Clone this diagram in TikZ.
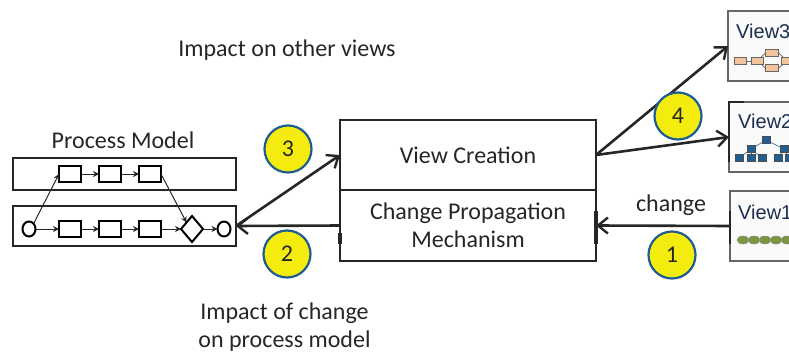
\documentclass[tikz,border=0pt]{standalone}
\usepackage{fontspec}
\setmainfont{Carlito}
\newfontfamily\thumbfont{Liberation Sans}
\usetikzlibrary{shapes.geometric, arrows.meta, positioning}
\definecolor{badgeyellow}{HTML}{F5EC0F}
\definecolor{badgeblue}{HTML}{1F5C8F}
\definecolor{thumborange}{HTML}{F2C49B}
\definecolor{thumbblue}{HTML}{1F5F96}
\definecolor{thumbgreen}{HTML}{7F9440}
\definecolor{thumbtext}{HTML}{1B2F4F}
\tikzset{
  lane/.style={draw=black!85,line width=2.8pt,minimum width=223pt,inner sep=0pt,outer sep=0pt},
  task/.style={draw=black,line width=2pt,minimum width=22pt,minimum height=16pt,inner sep=0pt,outer sep=0pt},
  event/.style={draw=black,line width=2pt,ellipse,minimum width=13pt,minimum height=15pt,inner sep=0pt,outer sep=0pt},
  gateway/.style={draw=black,line width=2pt,diamond,minimum width=22pt,minimum height=26pt,inner sep=0pt,outer sep=0pt},
  flow/.style={-{Stealth[length=6pt,width=6pt]},line width=1pt,black!85},
  bigbox/.style={draw=black!85,line width=2.4pt,minimum width=256pt,inner sep=0pt,outer sep=0pt,align=center},
  link/.style={-{Straight Barb[length=10pt,width=16pt,line width=2.4pt]},line width=2.6pt,black!85},
  badge/.style={circle,draw=badgeblue,line width=2.2pt,fill=badgeyellow,minimum size=47pt,inner sep=0pt},
  thumb/.style={draw=black!60,line width=1.2pt,fill=black!2,minimum width=90pt,minimum height=70pt,inner sep=0pt,outer sep=0pt},
  thumblabel/.style={font=\thumbfont\fontsize{20}{24}\selectfont,text=thumbtext,inner sep=0pt,anchor=west},
  otask/.style={draw=black!60,line width=0.6pt,fill=thumborange,minimum width=12pt,minimum height=7pt,inner sep=0pt},
  btask/.style={draw=black!70,line width=0.5pt,fill=thumbblue,minimum width=8pt,minimum height=7pt,inner sep=0pt},
  every node/.style={font=\fontsize{24}{28}\selectfont,text=black!85}
}
\begin{document}
\begin{tikzpicture}[x=1pt,y=-1pt]
\useasboundingbox (0,0) rectangle (789,353);
\clip (0,0) rectangle (789,353);
% Process Model
\node (ModelTitle) at (123,140) {Process Model};
\node[lane,minimum height=32pt] (LaneTop) at (124.5,174) {};
\node[lane,minimum height=40pt] (LaneBottom) at (124.5,226) {};
\node[task] (TopA) at (70,174) {};
\node[task,right=18pt of TopA] (TopB) {};
\node[task,right=18pt of TopB] (TopC) {};
\node[event] (Start) at (29,229) {};
\node[task] (TaskA) at (70,229) {};
\node[task,right=18pt of TaskA] (TaskB) {};
\node[task,right=18pt of TaskB] (TaskC) {};
\node[gateway] (Gate) at (192,229) {};
\node[event] (End) at (224,229) {};
\draw[flow] (TopA) -- (TopB);
\draw[flow] (TopB) -- (TopC);
\draw[flow] (Start) -- (TaskA);
\draw[flow] (TaskA) -- (TaskB);
\draw[flow] (TaskB) -- (TaskC);
\draw[flow] (TaskC) -- (Gate);
\draw[flow] (Gate) -- (End);
\draw[flow] (Start.north east) -- (TopA.west);
\draw[flow] (TopC.east) -- (Gate.north west);
% View Creation and Mechanism
\node[bigbox,minimum height=70pt] (Creation) at (468,155) {View Creation};
\node[bigbox,minimum height=71pt,below=0pt of Creation] (Mechanism) {Change Propagation\\Mechanism};
\draw[line width=4pt,black!85] (Mechanism.south east |- 0,211) -- (Mechanism.south east |- 0,244);
\draw[line width=4pt,black!85] (Mechanism.south west |- 0,233) -- (Mechanism.south west |- 0,244);
% Views
\node[thumb] (ViewThree) at (773,46) {};
\node[thumb] (ViewTwo) at (774,137) {};
\node[thumb] (ViewOne) at (775,226) {};
\node[thumblabel] (ViewThreeText) at (736,31) {View3};
\node[thumblabel] (ViewTwoText) at (738,121) {View2};
\node[thumblabel] (ViewOneText) at (738,212) {View1};
\draw[line width=2.4pt,black!85] (729,162) -- (729,102) -- (744,102);
\draw[line width=2.4pt,black!85] (730,211) -- (730,244);
% View3 thumbnail
\node[otask] (OrangeA) at (740,61) {};
\node[otask,right=5pt of OrangeA] (OrangeB) {};
\node[otask,minimum width=13pt] (OrangeUp) at (772,53) {};
\node[otask,minimum width=13pt] (OrangeDown) at (772,68) {};
\node[otask] (OrangeC) at (787,61) {};
\draw[black!60,line width=0.7pt] (OrangeA) -- (OrangeB);
\draw[black!60,line width=0.7pt] (OrangeB) -- (OrangeUp.west);
\draw[black!60,line width=0.7pt] (OrangeB) -- (OrangeDown.west);
\draw[black!60,line width=0.7pt] (OrangeUp.east) -- (OrangeC);
\draw[black!60,line width=0.7pt] (OrangeDown.east) -- (OrangeC);
% View2 thumbnail
\node[btask] (TreeRoot) at (766,140) {};
\node[btask] (TreeLeft) at (751,149) {};
\node[btask] (TreeRight) at (784,149) {};
\foreach \name/\xpos in {LeafA/739,LeafB/751,LeafC/762,LeafD/778,LeafE/789}
  \node[btask] (\name) at (\xpos,158) {};
\draw[thumbblue,line width=0.6pt] (TreeRoot) -- (TreeLeft);
\draw[thumbblue,line width=0.6pt] (TreeRoot) -- (TreeRight);
\foreach \name in {LeafA,LeafB,LeafC}
  \draw[thumbblue,line width=0.6pt] (TreeLeft) -- (\name);
\foreach \name in {LeafD,LeafE}
  \draw[thumbblue,line width=0.6pt] (TreeRight) -- (\name);
% View1 thumbnail
\foreach \xpos in {743,754,765,776,787}
  \node[draw=black!45,line width=0.5pt,fill=thumbgreen,ellipse,minimum width=12pt,minimum height=8pt,inner sep=0pt] (Pill\xpos) at (\xpos,240) {};
% Links
\draw[link] (Creation.east) -- (ViewThree.west);
\draw[link] (Creation.east) -- (ViewTwo.west);
\draw[link] (ViewOne.west) -- (Mechanism.east) node[midway,above=5pt,xshift=8pt] (ChangeLabel) {change};
\draw[link] (Mechanism.west) -- (LaneBottom.east);
\draw[link] (LaneBottom.east) -- (Creation.west);
% Numbers
\node[badge] (BadgeOne) at (672,255) {1};
\node[badge] (BadgeTwo) at (287,254) {2};
\node[badge] (BadgeThree) at (288,149) {3};
\node[badge] (BadgeFour) at (678,116) {4};
% Captions
\node (OtherViews) at (287,50) {Impact on other views};
\node[align=center] (ModelImpact) at (284.5,327) {Impact of change\\on process model};
\end{tikzpicture}
\end{document}
